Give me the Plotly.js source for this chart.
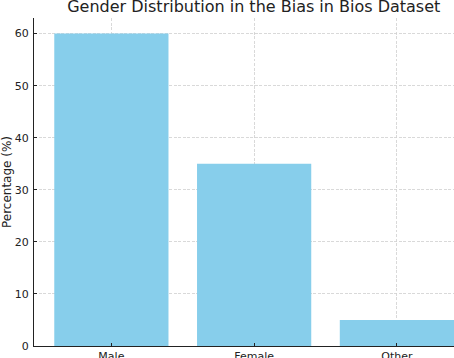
<!DOCTYPE html>
<html>
<head>
<meta charset="utf-8">
<script src="https://cdn.plot.ly/plotly-3.0.1.min.js"></script>
<style>
  html, body { margin: 0; padding: 0; background: #fff; }
  #chart { width: 454px; height: 358px; }
</style>
</head>
<body>
<div id="chart"></div>
<script>
// gender share in the Bias in Bios dataset
var genders = ['Male', 'Female', 'Other'];
var percentages = [60, 35, 5];
var yTicks = [0, 10, 20, 30, 40, 50, 60];

var data = [{
    x: genders,
    y: percentages,
    type: 'bar',
    width: 0.8,
    marker: { color: '#87CEEB' },
    hoverinfo: 'x+y'
}];

var layout = {
    width: 454,
    height: 358,
    margin: { l: 34, r: 0, t: 18, b: 12 },
    paper_bgcolor: '#fff',
    plot_bgcolor: '#fff',
    font: { family: 'DejaVu Sans', size: 11, color: '#222' },
    showlegend: false,
    title: {
        text: 'Gender Distribution in the Bias in Bios Dataset',
        font: { family: 'DejaVu Sans', size: 16, color: '#222' },
        xref: 'container', yref: 'container',
        x: 0.559, xanchor: 'center',
        y: 0.981, yanchor: 'middle'
    },
    xaxis: {
        range: [-0.542, 2.4],
        showline: true, linecolor: '#222', linewidth: 1,
        ticks: 'inside', ticklen: 3, tickcolor: '#222',
        showgrid: true, gridcolor: '#d0d0d0', griddash: '3px,1.5px', gridwidth: 0.8,
        tickfont: { size: 11 },
        fixedrange: true
    },
    yaxis: {
        range: [0, 63],
        tickvals: yTicks,
        showline: true, linecolor: '#222', linewidth: 1,
        ticks: 'inside', ticklen: 3, tickcolor: '#222',
        showgrid: true, gridcolor: '#d0d0d0', griddash: '3px,1.5px', gridwidth: 0.8,
        zeroline: false,
        ticklabelstandoff: 2,
        title: { text: 'Percentage (%)', font: { size: 12 }, standoff: 6 },
        fixedrange: true
    },
    bargap: 0.2
};

Plotly.newPlot('chart', data, layout, { displayModeBar: false, staticPlot: true });
</script>
</body>
</html>
